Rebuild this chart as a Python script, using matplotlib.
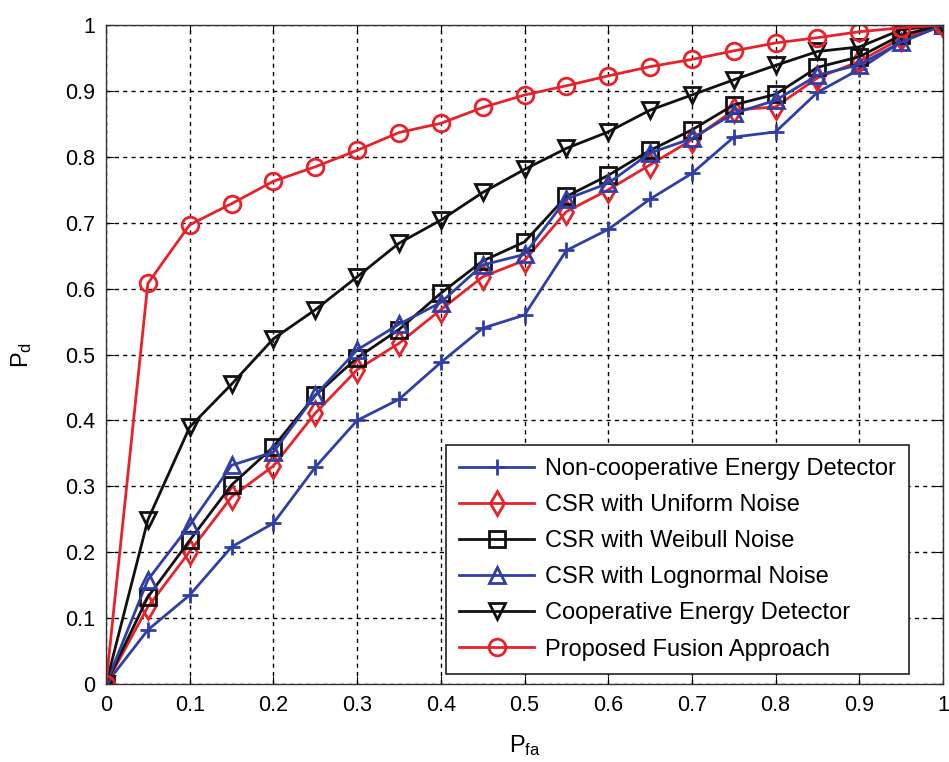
import matplotlib
matplotlib.use("Agg")
import matplotlib.pyplot as plt

plt.rcParams['font.family'] = ['Liberation Sans', 'DejaVu Sans']
plt.rcParams['mathtext.default'] = 'regular'

pfa = [0, 0.05, 0.1, 0.15, 0.2, 0.25, 0.3, 0.35, 0.4, 0.45, 0.5,
       0.55, 0.6, 0.65, 0.7, 0.75, 0.8, 0.85, 0.9, 0.95, 1.0]

noncoop = [0, 0.082, 0.135, 0.208, 0.244, 0.329, 0.400, 0.432, 0.488, 0.540, 0.560,
           0.658, 0.690, 0.736, 0.775, 0.830, 0.838, 0.898, 0.933, 0.975, 1.0]
uniform = [0, 0.117, 0.201, 0.284, 0.331, 0.411, 0.477, 0.517, 0.568, 0.618, 0.643,
           0.717, 0.750, 0.788, 0.826, 0.871, 0.876, 0.920, 0.945, 0.980, 1.0]
weibull = [0, 0.132, 0.218, 0.302, 0.360, 0.438, 0.495, 0.538, 0.593, 0.642, 0.671,
           0.740, 0.772, 0.810, 0.841, 0.879, 0.895, 0.936, 0.952, 0.985, 1.0]
lognormal = [0, 0.158, 0.241, 0.332, 0.352, 0.438, 0.507, 0.546, 0.579, 0.636, 0.652,
             0.736, 0.760, 0.806, 0.828, 0.866, 0.886, 0.924, 0.940, 0.974, 1.0]
coop = [0, 0.249, 0.390, 0.455, 0.524, 0.568, 0.618, 0.669, 0.704, 0.746, 0.781,
        0.813, 0.838, 0.871, 0.894, 0.917, 0.939, 0.960, 0.967, 0.993, 1.0]
proposed = [0, 0.608, 0.697, 0.729, 0.763, 0.785, 0.810, 0.837, 0.851, 0.875, 0.894,
            0.908, 0.923, 0.937, 0.948, 0.961, 0.973, 0.981, 0.990, 0.996, 1.0]

labels = ['Non-cooperative Energy Detector', 'CSR with Uniform Noise',
          'CSR with Weibull Noise', 'CSR with Lognormal Noise',
          'Cooperative Energy Detector', 'Proposed Fusion Approach']
ticks = [0, 0.1, 0.2, 0.3, 0.4, 0.5, 0.6, 0.7, 0.8, 0.9, 1]
tick_labels = ['0', '0.1', '0.2', '0.3', '0.4', '0.5', '0.6', '0.7', '0.8', '0.9', '1']

BLUE = '#2f3fa6'
RED = '#e8222a'
BLACK = '#111111'

fig = plt.figure(figsize=(9.49, 7.62), dpi=100)
ax = fig.add_axes([0.1117, 0.1024, 0.882, 0.8646])

style = dict(lw=2.0, mew=2.0, mfc='none', ms=12)
ax.plot(pfa, noncoop, color=BLUE, marker='+', label=labels[0], **style)
ax.plot(pfa, uniform, color=RED, marker='d', label=labels[1], **style)
ax.plot(pfa, weibull, color=BLACK, marker='s', label=labels[2], **style)
ax.plot(pfa, lognormal, color=BLUE, marker='^', label=labels[3], **style)
ax.plot(pfa, coop, color=BLACK, marker='v', label=labels[4], **style)
ax.plot(pfa, proposed, color=RED, marker='o', label=labels[5], **style)

ax.set_xlim(0, 1)
ax.set_ylim(0, 1)
ax.set_xticks(ticks)
ax.set_xticklabels(tick_labels)
ax.set_yticks(ticks)
ax.set_yticklabels(tick_labels)
ax.tick_params(direction='in', top=True, right=True, labelsize=15.5, length=6, pad=8)
ax.grid(True, color='black', linestyle=(0, (3, 3)), linewidth=1.0)
for sp in ax.spines.values():
    sp.set_color('#333333')
    sp.set_linewidth(1.0)

ax.set_xlabel('$P_{fa}$', fontsize=17, labelpad=12)
ax.set_ylabel('$P_{d}$', fontsize=17, labelpad=22)

leg = ax.legend(loc='upper left', bbox_to_anchor=(0.406, 0.363), borderaxespad=0,
                fontsize=17, handlelength=3.2, handletextpad=0.45, labelspacing=0.6,
                borderpad=0.55, fancybox=False, framealpha=1, edgecolor='#222222')
leg.get_frame().set_linewidth(1.2)

fig.savefig('out.png', dpi=100, facecolor='white')
